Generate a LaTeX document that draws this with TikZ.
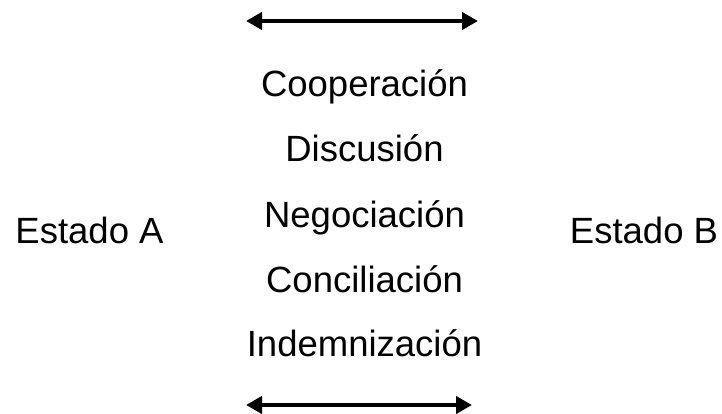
\documentclass[tikz,border=0pt]{standalone}
\usepackage{fontspec}
\setmainfont{Liberation Sans}
\usetikzlibrary{arrows.meta}

\tikzset{
  lbl/.style={font=\fontsize{36.5}{42}\selectfont, anchor=base, inner sep=0pt},
  twoway/.style={{Triangle[length=16pt,width=17pt]}-{Triangle[length=16pt,width=17pt]}, line width=4.5pt},
}

\begin{document}
\begin{tikzpicture}[x=1pt, y=-1pt]
  \useasboundingbox (0,0) rectangle (722,414);
  \coordinate (t1) at (246,21);
  \coordinate (t2) at (478,21);
  \coordinate (b1) at (246,405);
  \coordinate (b2) at (472,405);
  \draw [twoway] (t1) -- (t2);
  \draw [twoway] (b1) -- (b2);
  \node [lbl] (coop) at (364.5,97) {Cooperación};
  \node [lbl] (disc) at (364.5,162) {Discusión};
  \node [lbl] (nego) at (364.5,227) {Negociación};
  \node [lbl] (conc) at (364.5,292) {Conciliación};
  \node [lbl] (inde) at (364.5,356) {Indemnización};
  \node [lbl] (esta) at (89.5,243.5) {Estado A};
  \node [lbl] (estb) at (644,243.5) {Estado B};
\end{tikzpicture}
\end{document}
